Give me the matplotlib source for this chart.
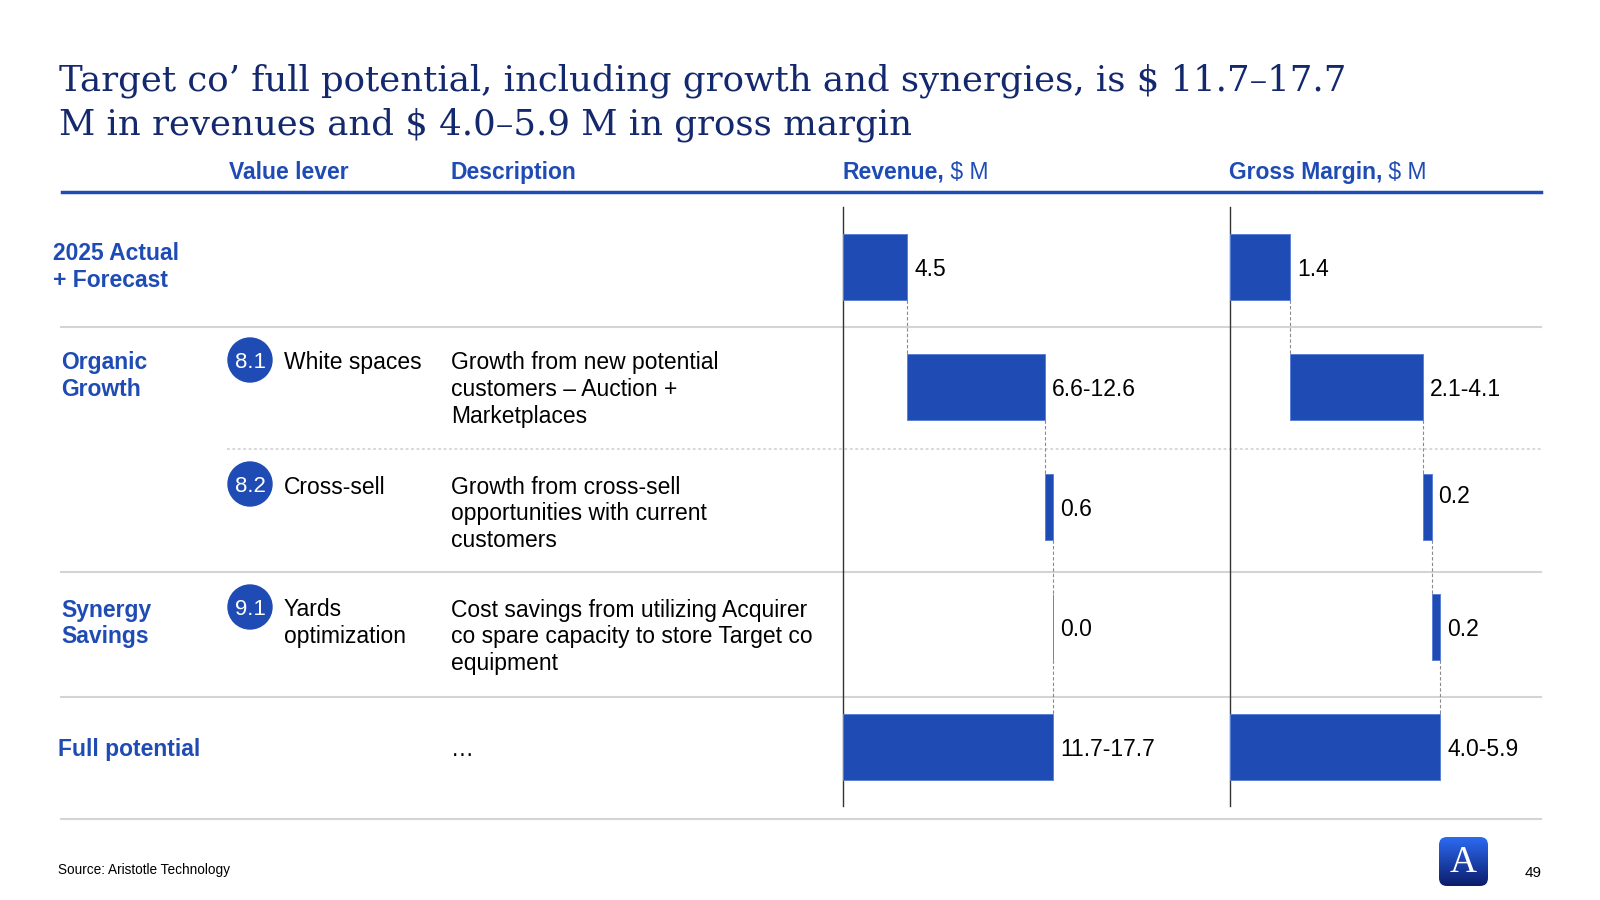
import matplotlib
matplotlib.use("Agg")
import matplotlib.pyplot as plt
import numpy as np
from matplotlib.colors import LinearSegmentedColormap
from matplotlib.patches import Circle, FancyBboxPatch

plt.rcParams["font.family"] = ["Liberation Sans", "DejaVu Sans"]

BLUE = "#1F4BB4"
NAVY = "#14286E"
GREY = "#D4D4D4"
SERIF = ["DejaVu Serif", "Liberation Serif"]

# --- data ---------------------------------------------------------------
title_lines = [
    "Target co\u2019 full potential, including growth and synergies, is $ 11.7\u201317.7",
    "M in revenues and $ 4.0\u20135.9 M in gross margin",
]
headers = ["Value lever", "Description"]
groups = ["2025 Actual\n+ Forecast", "Organic\nGrowth", "", "Synergy\nSavings", "Full potential"]
lever_ids = ["", "8.1", "8.2", "9.1", ""]
lever_names = ["", "White spaces", "Cross-sell", "Yards\noptimization", ""]
descriptions = [
    "",
    "Growth from new potential\ncustomers \u2013 Auction +\nMarketplaces",
    "Growth from cross-sell\nopportunities with current\ncustomers",
    "Cost savings from utilizing Acquirer\nco spare capacity to store Target co\nequipment",
    "\u2026",
]

# waterfall steps (low, high) in $ M; last row of each chart is the total
rev_low = [4.5, 6.6, 0.6, 0.0]
rev_high = [4.5, 12.6, 0.6, 0.0]
rev_total = [11.7, 17.7]
gm_low = [1.4, 2.1, 0.2, 0.2]
gm_high = [1.4, 4.1, 0.2, 0.2]
gm_total = [4.0, 5.9]

source = "Source: Aristotle Technology"
page = "49"

# --- layout (pixels of a 1600x900 canvas) -------------------------------
W, H = 1600, 900
fig = plt.figure(figsize=(16, 9), dpi=100)
ov = fig.add_axes([0, 0, 1, 1])
ov.set_xlim(0, W)
ov.set_ylim(H, 0)
ov.axis("off")

AX_TOP, AX_BOT = 207, 806
ROW_H = 120
row_center = [AX_TOP + (i + 0.5) * ROW_H for i in range(5)]
text_y = [None, 360, 484, 607, None]  # first-line centre of lever/description text


def fmt(lo, hi):
    return f"{lo:.1f}" if abs(lo - hi) < 1e-9 else f"{lo:.1f}-{hi:.1f}"


def waterfall(left_px, right_px, px_per_unit, low, high, total, nudge=None):
    nudge = nudge or {}
    ax = fig.add_axes([left_px / W, 1 - AX_BOT / H, (right_px - left_px) / W,
                       (AX_BOT - AX_TOP) / H])
    ax.patch.set_alpha(0)
    mid = (np.array(low) + np.array(high)) / 2
    ends = np.cumsum(mid)
    starts = ends - mid
    n = len(mid)
    y = np.arange(n + 1)
    lefts = np.append(starts, 0)
    widths = np.append(mid, ends[-1])
    ax.barh(y, widths, left=lefts, height=0.55, color=BLUE,
            edgecolor="#5C80D8", linewidth=0.7, zorder=3)
    for i in range(n):
        ax.plot([ends[i], ends[i]], [i + 0.275, i + 1 - 0.275],
                ls=(0, (3, 2)), color="#8A8A8A", lw=0.8, zorder=2)
    labels = [fmt(lo, hi) for lo, hi in zip(low, high)] + [fmt(*total)]
    for i, lab in enumerate(labels):
        ax.annotate(lab, (lefts[i] + widths[i], y[i]), xytext=(5, nudge.get(i, 0)),
                    textcoords="offset points", va="center_baseline", ha="left",
                    fontsize=16.5, color="black")
    top_units = (AX_BOT - AX_TOP) / ROW_H
    ax.set_ylim(top_units - 0.5, -0.5)
    ax.set_xlim(0, (right_px - left_px) / px_per_unit)
    for s in ["top", "right", "bottom"]:
        ax.spines[s].set_visible(False)
    ax.spines["left"].set_color("#333333")
    ax.spines["left"].set_linewidth(1.0)
    ax.set_xticks([])
    ax.set_yticks([])
    return ax


# separators
ov.plot([62, 1541], [192, 192], color=BLUE, lw=2.5)
for yy in [327, 572, 697, 819]:
    ov.plot([61, 1541], [yy, yy], color=GREY, lw=1.5)
ov.plot([227, 1541], [449, 449], color=GREY, lw=1.3, ls=(0, (1.5, 1.5)))

waterfall(843, 1225, 14.3, rev_low, rev_high, rev_total)
waterfall(1230, 1540, 42.9, gm_low, gm_high, gm_total, nudge={2: 9.5})

# title
ov.text(59, 91, title_lines[0], family=SERIF, fontsize=25.6, color=NAVY, va="baseline")
ov.text(59, 135, title_lines[1], family=SERIF, fontsize=25.6, color=NAVY, va="baseline")

# column headers
hdr = dict(fontsize=16.5, color=BLUE, fontweight="bold", va="baseline")
ov.text(229, 179, headers[0], **hdr)
ov.text(451, 179, headers[1], **hdr)
for x0, bold in [(842, "Revenue,"), (1229, "Gross Margin,")]:
    t = ov.text(x0, 179, bold, **hdr)
    ov.annotate(" $ M", xy=(1, 0), xycoords=t, va="bottom", ha="left",
                fontsize=16.5, color=BLUE)

# group labels
grp = dict(fontsize=16.5, color=BLUE, fontweight="bold", linespacing=1.22)
ov.text(53, row_center[0], groups[0], va="center", **grp)
ov.text(61, text_y[1] - 8.5, groups[1], va="top", **grp)
ov.text(61, text_y[3] - 8.5, groups[3], va="top", **grp)
ov.text(58, row_center[4], groups[4], va="center_baseline", **grp)

# levers + descriptions
for i in range(5):
    if lever_ids[i]:
        ty = text_y[i]
        ov.add_patch(Circle((250, ty), 22, color=BLUE, zorder=3))
        ov.text(250, ty, lever_ids[i], color="white", fontsize=16, ha="center",
                va="center_baseline", zorder=4)
        ov.text(284, ty - 8.5, lever_names[i], fontsize=16.5, va="top", linespacing=1.22)
        ov.text(451, ty - 8.5, descriptions[i], fontsize=16.5, va="top", linespacing=1.22)
ov.text(451, row_center[4], descriptions[4], fontsize=16.5, va="center_baseline")

# footer
ov.text(58, 870, source, fontsize=9.8, va="center")
ov.text(1533, 873, page, fontsize=11, va="center", ha="center")

# logo
grad = np.linspace(0, 1, 100).reshape(-1, 1)
cmap = LinearSegmentedColormap.from_list("logo", ["#2D6AF2", "#0B1D6B"])
im = ov.imshow(grad, cmap=cmap, extent=(1439, 1488, 886, 837), aspect="auto", zorder=3)
box = FancyBboxPatch((1439, 837), 49, 49, boxstyle="round,pad=0,rounding_size=8",
                     fc="none", ec="none", transform=ov.transData)
ov.add_patch(box)
im.set_clip_path(box)
ov.text(1463.5, 863, "A", family=["Liberation Serif"], color="white", fontsize=27,
        ha="center", va="center", zorder=4)
ov.set_xlim(0, W)
ov.set_ylim(H, 0)

fig.savefig("out.png", dpi=100)
